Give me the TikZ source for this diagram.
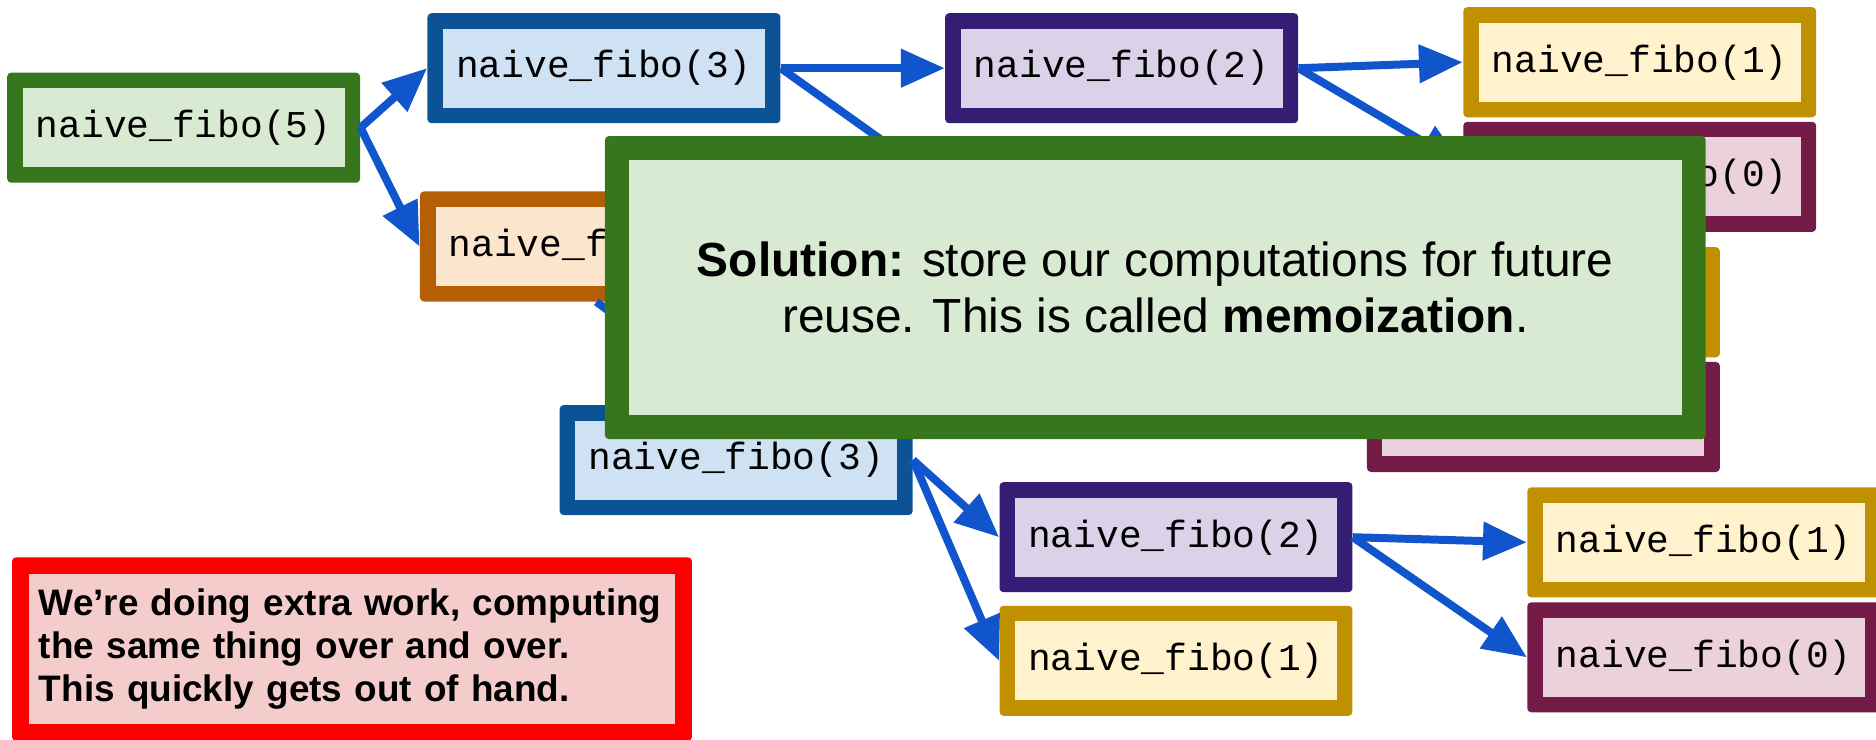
\documentclass[tikz,border=0pt]{standalone}
\usepackage{fontspec}
\setmainfont{Liberation Sans}
\newfontfamily\mono{Liberation Mono}
\usetikzlibrary{arrows.meta}
\definecolor{verdeb}{HTML}{38761D}
\definecolor{verdef}{HTML}{D9EAD3}
\definecolor{azulb}{HTML}{0B5394}
\definecolor{azulf}{HTML}{CFE2F3}
\definecolor{roxob}{HTML}{351C75}
\definecolor{roxof}{HTML}{D9D2E9}
\definecolor{ourob}{HTML}{BF9000}
\definecolor{ourof}{HTML}{FFF2CC}
\definecolor{vinhob}{HTML}{741B47}
\definecolor{vinhof}{HTML}{EAD1DC}
\definecolor{laranjab}{HTML}{B45F06}
\definecolor{laranjaf}{HTML}{FCE5CD}
\definecolor{vermelhob}{HTML}{FF0000}
\definecolor{vermelhof}{HTML}{F4CCCC}
\definecolor{azulseta}{HTML}{1155CC}
\tikzset{
  caixa/.style n args={3}{rectangle, fill=#1, rounded corners=2pt, inner sep=0pt,
    path picture={\fill[#2, sharp corners] ([shift={(#3,#3)}]path picture bounding box.south west)
      rectangle ([shift={(-#3,-#3)}]path picture bounding box.north east);}},
  chamada/.style 2 args={caixa={#1}{#2}{7.8pt}, minimum width=177pt, minimum height=55.2pt,
    font=\mono\fontsize{19}{21}\selectfont},
  solucao/.style={caixa={verdeb}{verdef}{12pt}, minimum width=552pt, minimum height=152pt,
    align=center, font=\fontsize{24}{28}\selectfont},
  aviso/.style={caixa={vermelhob}{vermelhof}{8.4pt}, minimum width=341pt, minimum height=92pt,
    text width=314pt, inner xsep=13.5pt, align=left, font=\bfseries\fontsize{18.5}{21.7}\selectfont},
  seta/.style={draw=azulseta, line width=4pt, -{Triangle[length=22pt, width=18.5pt]}},
}

\begin{document}
\begin{tikzpicture}[x=0.6pt, y=-0.6pt]
  \path[use as bounding box, fill=white] (0,0) rectangle (1568,618);

  % ---------------- arvore de chamadas ----------------
  \node[chamada={verdeb}{verdef}]     (f5)   at (153.5,106.7) {naive\_fibo(5)};
  \node[chamada={azulb}{azulf}]       (f3a)  at (504.8,57)    {naive\_fibo(3)};
  \node[chamada={laranjab}{laranjaf}] (f4)   at (498.5,206)   {naive\_fibo(4)};
  \node[chamada={roxob}{roxof}]       (f2a)  at (937.5,57)    {naive\_fibo(2)};
  \node[chamada={ourob}{ourof}]       (f1r)  at (1370.5,52)   {naive\_fibo(1)};
  \node[chamada={vinhob}{vinhof}]     (f0r)  at (1370.5,147.8) {naive\_fibo(0)};
  % filhos de um naive_fibo(2) encoberto
  \node[chamada={ourob}{ourof}]       (g1)   at (1290,252.6)  {};
  \node[chamada={vinhob}{vinhof}]     (m0)   at (1290,348.5)  {};
  \node[chamada={azulb}{azulf}]       (f3b)  at (615.3,384.5) {naive\_fibo(3)};
  \node[chamada={roxob}{roxof}]       (f2b)  at (982.9,449)   {naive\_fibo(2)};
  \node[chamada={ourob}{ourof}]       (f1b)  at (982.9,552.3) {naive\_fibo(1)};
  \node[chamada={ourob}{ourof}]       (f1br) at (1424,453.3)  {naive\_fibo(1)};
  \node[chamada={vinhob}{vinhof}]     (f0br) at (1424,549.4)  {naive\_fibo(0)};
  \coordinate (f1oculto) at (800,162);

  \foreach \a/\b in {f5/f3a, f5/f4, f3a/f2a, f2a/f1r, f3b/f2b, f3b/f1b, f2b/f1br, f2b/f0br}
    \draw[seta] (\a.east) -- (\b.west);
  \draw[seta] (f2a.east) -- ([yshift=6pt]f0r.west);
  \draw[seta] (f3a.east) -- (f1oculto);
  \draw[seta] (f4.south) -- (f3b.north);

  % ---------------- caixas de texto ----------------
  \node[aviso] (extra) at (294.2,542.5)
    {We’re doing extra work, computing\\the same thing over and over.\\This quickly gets out of hand.};
  \node[solucao] (sol) at (965.6,240.4)
    {\textbf{Solution:} store our computations for future\\reuse. This is called \textbf{memoization}.};
\end{tikzpicture}
\end{document}
